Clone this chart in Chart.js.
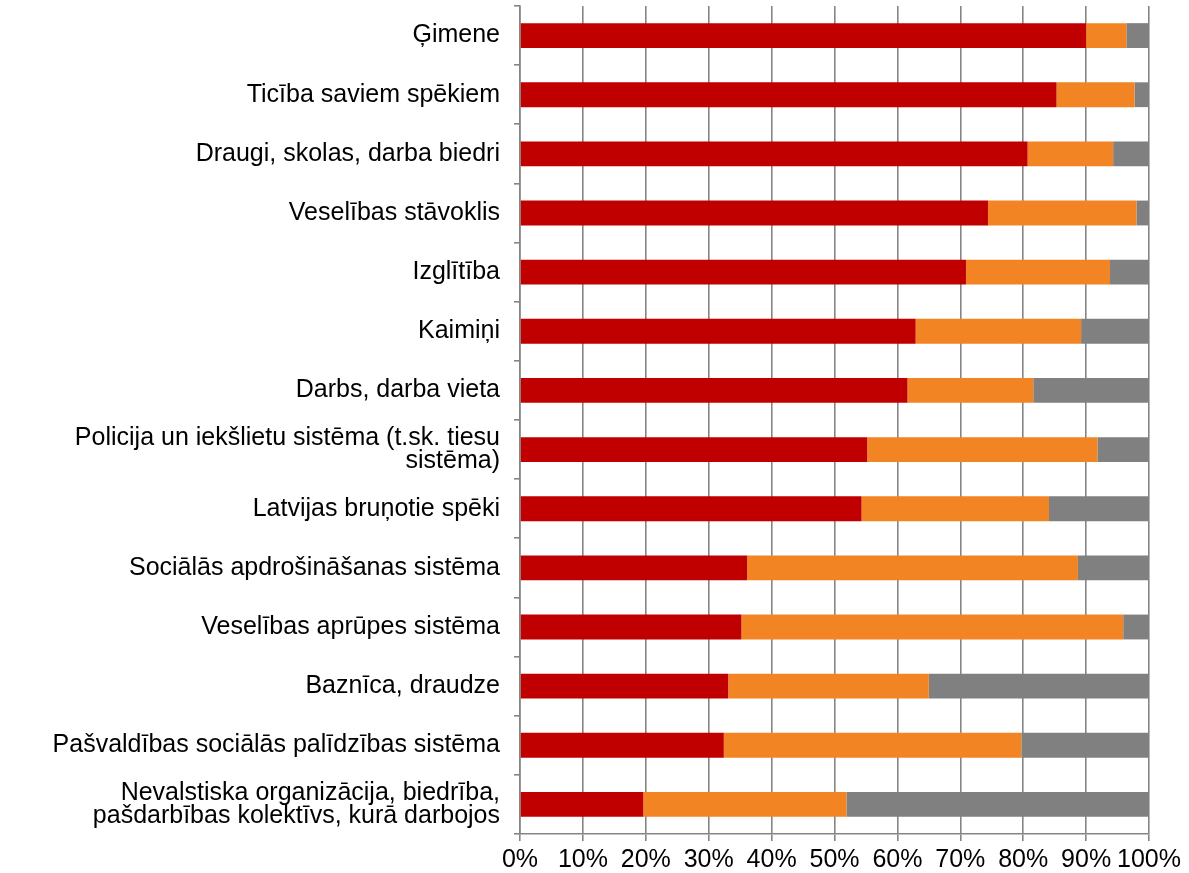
<!DOCTYPE html>
<html>
<head>
<meta charset="utf-8">
<script src="https://cdn.jsdelivr.net/npm/chart.js@4.4.1/dist/chart.umd.min.js"></script>
<style>
	html, body { margin: 0; padding: 0; background: #fff; }
	#wrap { width: 1189px; height: 873px; }
</style>
</head>
<body>
<div id="wrap"><canvas id="myChart"></canvas></div>
<script>
const categories = [
	'Ģimene',
	'Ticība saviem spēkiem',
	'Draugi, skolas, darba biedri',
	'Veselības stāvoklis',
	'Izglītība',
	'Kaimiņi',
	'Darbs, darba vieta',
	['Policija un iekšlietu sistēma (t.sk. tiesu', 'sistēma)'],
	'Latvijas bruņotie spēki',
	'Sociālās apdrošināšanas sistēma',
	'Veselības aprūpes sistēma',
	'Baznīca, draudze',
	'Pašvaldības sociālās palīdzības sistēma',
	['Nevalstiska organizācija, biedrība,', 'pašdarbības kolektīvs, kurā darbojos']
]

// segment widths in %
const redValues = [90.0, 85.3, 80.7, 74.4, 70.9, 62.9, 61.6, 55.2, 54.3, 36.1, 35.2, 33.1, 32.4, 19.6]
const orangeValues = [6.4, 12.4, 13.6, 23.6, 22.9, 26.3, 20.0, 36.6, 29.8, 52.6, 60.7, 31.9, 47.3, 32.3]
const grayValues = [3.6, 2.3, 5.7, 2.0, 6.2, 10.8, 18.4, 8.2, 15.9, 11.3, 4.1, 35.0, 20.3, 48.1]

const xTicks = [0, 10, 20, 30, 40, 50, 60, 70, 80, 90, 100]

const gridColor = '#858585'
const font = { family: '"Liberation Sans", Arial, sans-serif', size: 25 }

function makeSet(label, values, color) {
	return {
		label: label,
		data: values,
		backgroundColor: color,
		borderWidth: 0,
		barPercentage: 0.42,
		categoryPercentage: 1
	}
}

let data = {
	labels: categories,
	datasets: [
		makeSet('Sērija 1', redValues, '#C00000'),
		makeSet('Sērija 2', orangeValues, '#F28424'),
		makeSet('Sērija 3', grayValues, '#808080')
	]
}

let myChart = new Chart(
	document.getElementById('myChart'),
	{
		type: 'bar',
		data,
		options: {
			indexAxis: 'y',
			responsive: true,
			maintainAspectRatio: false,
			animation: false,
			layout: { padding: { left: 0, top: 6, right: 40, bottom: 0 } },
			plugins: {
				legend: { display: false },
				tooltip: { enabled: false }
			},
			scales: {
				x: {
					stacked: true,
					min: 0,
					max: 100,
					afterBuildTicks: (scale) => {
						scale.ticks = xTicks.map(v => ({ value: v }))
					},
					afterFit: (scale) => {
						scale.height = 39
						scale.paddingBottom = 0
					},
					ticks: {
						color: '#000',
						font: font,
						padding: 4,
						maxRotation: 0,
						autoSkip: false,
						callback: (v) => v + '%'
					},
					grid: { color: gridColor, lineWidth: 1.6, tickLength: 7 },
					border: { color: gridColor, width: 1.6 }
				},
				y: {
					stacked: true,
					afterFit: (scale) => {
						scale.width = 520
						// labels may stick out, the plot still starts at the top
						scale.paddingTop = 0
						scale.paddingBottom = 0
					},
					ticks: {
						color: '#000',
						font: Object.assign({ lineHeight: 0.92 }, font),
						padding: 14,
						autoSkip: false
					},
					grid: { drawOnChartArea: false, color: gridColor, lineWidth: 1.6, tickLength: 6 },
					border: { color: gridColor, width: 1.6 }
				}
			}
		}
	}
)
</script>
</body>
</html>
